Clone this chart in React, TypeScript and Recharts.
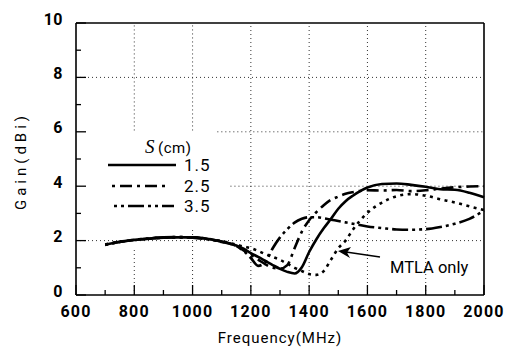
import React from "react"
import {
  LineChart,
  Line,
  XAxis,
  YAxis,
  ReferenceLine,
  Customized,
} from "recharts"

// frequency samples (MHz)
const freq = [
  700, 750, 800, 850, 900, 950, 1000, 1050, 1100, 1150, 1175, 1200, 1225, 1250,
  1275, 1300, 1325, 1350, 1375, 1400, 1425, 1450, 1475, 1500, 1525, 1550, 1600,
  1650, 1700, 1750, 1800, 1850, 1900, 1950, 2000,
]

// gain (dBi) for S = 1.5 cm
const gainS15 = [
  1.85, 1.95, 2.02, 2.07, 2.11, 2.12, 2.12, 2.07, 1.97, 1.82, 1.7, 1.54, 1.4,
  1.25, 1.1, 0.96, 0.85, 0.79, 1.02, 1.58, 2.05, 2.45, 2.8, 3.17, 3.45, 3.65,
  3.95, 4.08, 4.1, 4.05, 3.98, 3.89, 3.87, 3.76, 3.59,
]

// S = 2.5 cm
const gainS25 = [
  1.86, 1.96, 2.03, 2.08, 2.12, 2.13, 2.12, 2.06, 1.96, 1.8, 1.64, 1.47, 1.3,
  1.13, 1.0, 0.97, 1.1, 1.72, 2.33, 2.75, 3.05, 3.3, 3.5, 3.62, 3.72, 3.78,
  3.85, 3.84, 3.86, 3.82, 3.85, 3.91, 3.96, 3.99, 4.0,
]

// S = 3.5 cm
const gainS35 = [
  1.84, 1.95, 2.03, 2.08, 2.12, 2.13, 2.11, 2.05, 1.95, 1.8, 1.62, 1.36, 1.07,
  1.22, 1.72, 2.12, 2.42, 2.66, 2.8, 2.86, 2.86, 2.82, 2.77, 2.72, 2.67, 2.62,
  2.52, 2.46, 2.41, 2.4, 2.42, 2.5, 2.62, 2.8, 3.1,
]

// MTLA only
const gainMtla = [
  1.85, 1.96, 2.02, 2.07, 2.1, 2.12, 2.12, 2.07, 1.98, 1.85, 1.78, 1.72, 1.62,
  1.5, 1.4, 1.29, 1.15, 1.0, 0.88, 0.77, 0.74, 0.88, 1.3, 1.72, 2.0, 2.4, 3.02,
  3.4, 3.63, 3.71, 3.65, 3.52, 3.4, 3.26, 3.12,
]

const xTicks = [
  600, 700, 800, 900, 1000, 1100, 1200, 1300, 1400, 1500, 1600, 1700, 1800,
  1900, 2000,
]
const yTicks = [0, 1, 2, 3, 4, 5, 6, 7, 8, 9, 10]

const rows = freq.map((f, i) => ({
  f,
  s15: gainS15[i],
  s25: gainS25[i],
  s35: gainS35[i],
  mtla: gainMtla[i],
}))

const FONT = "Roboto, 'Noto Sans', sans-serif"
const DASH_S25 = "3 5 12 5"
const DASH_S35 = "3 4 3 4 16 4"
const DASH_MTLA = "3 4.5"
const GRID = { stroke: "#333", strokeDasharray: "1 3", strokeWidth: 1 }

function BottomTick(p: any) {
  const v = p.payload.value
  const major = v % 200 === 0
  return (
    <g>
      <line x1={p.x} x2={p.x} y1={p.y} y2={p.y - (major ? 10 : 5)} stroke="#000" strokeWidth={1.3} />
      {major && (
        <text x={p.x} y={p.y + 22} textAnchor="middle" fontFamily={FONT} fontWeight="bold" fontSize={16} letterSpacing={1.2} fill="#000">
          {v}
        </text>
      )}
    </g>
  )
}

function TopTick(p: any) {
  const major = p.payload.value % 200 === 0
  return <line x1={p.x} x2={p.x} y1={p.y} y2={p.y + (major ? 10 : 5)} stroke="#000" strokeWidth={1.3} />
}

function LeftTick(p: any) {
  const v = p.payload.value
  const major = v % 2 === 0
  return (
    <g>
      <line x1={p.x} x2={p.x + (major ? 10 : 5)} y1={p.y} y2={p.y} stroke="#000" strokeWidth={1.3} />
      {major && (
        <text x={p.x - 13} y={p.y + 1.5} textAnchor="end" fontFamily={FONT} fontWeight="bold" fontSize={16} letterSpacing={0.5} fill="#000">
          {v}
        </text>
      )}
    </g>
  )
}

function RightTick(p: any) {
  const major = p.payload.value % 2 === 0
  return <line x1={p.x} x2={p.x - (major ? 10 : 5)} y1={p.y} y2={p.y} stroke="#000" strokeWidth={1.3} />
}

function Overlay() {
  const txt = { fontFamily: FONT, fill: "#000" }
  return (
    <g>
      {/* legend */}
      <text x={145} y={153} fontFamily="'Liberation Serif', serif" fontStyle="italic" fontSize={19} fill="#000">
        S
      </text>
      <text x={158} y={153} {...txt} fontSize={15} letterSpacing={0.5}>
        (cm)
      </text>
      <line x1={108} x2={176} y1={165} y2={165} stroke="#000" strokeWidth={2.5} />
      <text x={184} y={171} {...txt} fontSize={17} letterSpacing={1}>1.5</text>
      <line x1={112} x2={168} y1={186} y2={186} stroke="#000" strokeWidth={2.5} strokeDasharray={DASH_S25} />
      <text x={184} y={192} {...txt} fontSize={17} letterSpacing={1}>2.5</text>
      <line x1={114} x2={174} y1={206} y2={206} stroke="#000" strokeWidth={2.5} strokeDasharray={DASH_S35} />
      <text x={184} y={212} {...txt} fontSize={17} letterSpacing={1}>3.5</text>

      {/* annotation */}
      <line x1={380} y1={257} x2={346} y2={252} stroke="#000" strokeWidth={1.3} />
      <polygon points="338,251 351,247 347,252.5 350,258" fill="#000" />
      <text x={390} y={273} {...txt} fontSize={16.5}>MTLA only</text>

      {/* axis titles */}
      <text x={280} y={343} textAnchor="middle" {...txt} fontSize={15} letterSpacing={1}>
        Frequency(MHz)
      </text>
      <text
        x={0}
        y={0}
        transform="translate(26,161) rotate(-90)"
        textAnchor="middle"
        {...txt}
        fontSize={15}
        letterSpacing={4}
      >
        Gain(dBi)
      </text>
    </g>
  )
}

export default function App() {
  return (
    <div style={{ position: "absolute", left: 0, top: 0, background: "#fff" }}>
      <LineChart
        width={506}
        height={347}
        data={rows}
        margin={{ top: 22, right: 21, bottom: 51, left: 75 }}
      >
        <XAxis
          dataKey="f"
          type="number"
          domain={[600, 2000]}
          ticks={xTicks}
          interval={0}
          height={1}
          tickSize={0}
          tickMargin={0}
          tickLine={false}
          axisLine={{ stroke: "#000", strokeWidth: 1.6 }}
          tick={(p: any) => <BottomTick {...p} />}
        />
        <XAxis
          xAxisId="top"
          orientation="top"
          type="number"
          domain={[600, 2000]}
          ticks={xTicks}
          interval={0}
          height={1}
          tickSize={0}
          tickMargin={0}
          tickLine={false}
          axisLine={{ stroke: "#000", strokeWidth: 1.6 }}
          tick={(p: any) => <TopTick {...p} />}
        />
        <YAxis
          type="number"
          domain={[0, 10]}
          ticks={yTicks}
          interval={0}
          width={1}
          tickSize={0}
          tickMargin={0}
          tickLine={false}
          axisLine={{ stroke: "#000", strokeWidth: 1.6 }}
          tick={(p: any) => <LeftTick {...p} />}
        />
        <YAxis
          yAxisId="right"
          orientation="right"
          type="number"
          domain={[0, 10]}
          ticks={yTicks}
          interval={0}
          width={1}
          tickSize={0}
          tickMargin={0}
          tickLine={false}
          axisLine={{ stroke: "#000", strokeWidth: 1.6 }}
          tick={(p: any) => <RightTick {...p} />}
        />

        {/* dotted grid (partly hidden behind the legend block in the original) */}
        <ReferenceLine y={8} {...GRID} />
        <ReferenceLine segment={[{ x: 1085, y: 6 }, { x: 2000, y: 6 }]} {...GRID} />
        <ReferenceLine segment={[{ x: 1130, y: 4 }, { x: 2000, y: 4 }]} {...GRID} />
        <ReferenceLine y={2} {...GRID} />
        <ReferenceLine segment={[{ x: 800, y: 0 }, { x: 800, y: 1.75 }]} {...GRID} />
        <ReferenceLine segment={[{ x: 800, y: 6.05 }, { x: 800, y: 10 }]} {...GRID} />
        <ReferenceLine segment={[{ x: 1000, y: 0 }, { x: 1000, y: 2.4 }]} {...GRID} />
        <ReferenceLine segment={[{ x: 1000, y: 6.05 }, { x: 1000, y: 10 }]} {...GRID} />
        <ReferenceLine x={1200} {...GRID} />
        <ReferenceLine x={1400} {...GRID} />
        <ReferenceLine x={1600} {...GRID} />
        <ReferenceLine x={1800} {...GRID} />

        <Line type="monotone" dataKey="mtla" stroke="#000" strokeWidth={2.6} strokeDasharray={DASH_MTLA} dot={false} isAnimationActive={false} />
        <Line type="monotone" dataKey="s35" stroke="#000" strokeWidth={2.6} strokeDasharray={DASH_S35} dot={false} isAnimationActive={false} />
        <Line type="monotone" dataKey="s25" stroke="#000" strokeWidth={2.6} strokeDasharray={DASH_S25} dot={false} isAnimationActive={false} />
        <Line type="monotone" dataKey="s15" stroke="#000" strokeWidth={2.6} dot={false} isAnimationActive={false} />

        <Customized component={<Overlay />} />
      </LineChart>
    </div>
  )
}
